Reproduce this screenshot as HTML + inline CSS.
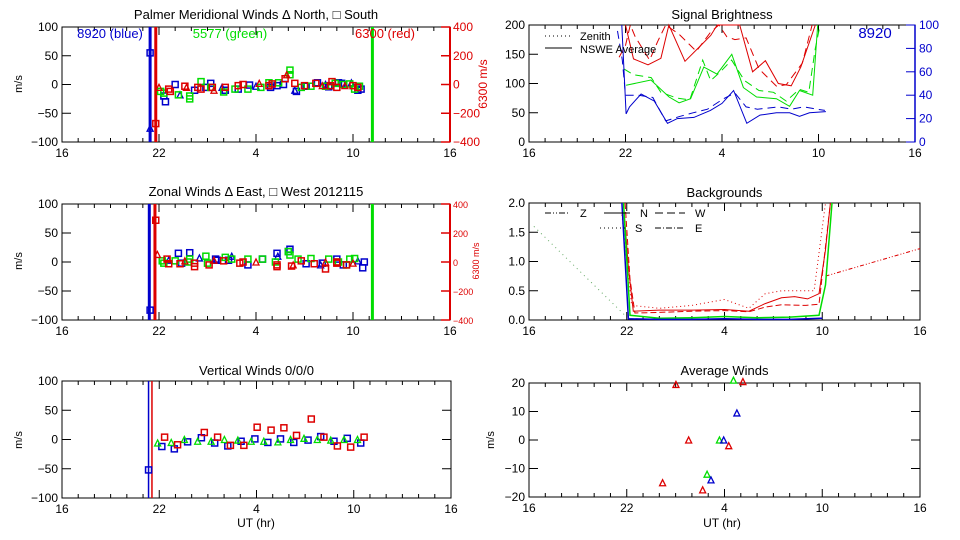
<!DOCTYPE html>
<html><head><meta charset="utf-8"><style>
html,body{margin:0;padding:0;background:#fff;}
svg{display:block;font-family:"Liberation Sans",sans-serif;}
</style></head><body>
<svg id="c" width="960" height="540" viewBox="0 0 960 540"></svg>
<script>
// ---------- data ----------
const xTickLabels = ["16","22","4","10","16"];
// Panel 1 meridional
const merBlueH = [21.45,21.45,22.3,22.4,23,23.3,24.2,24.9,25.2,25.9,26.1,26.9,27.6,28,28.9,29.3,29.7,30.4,30.5,31.1,31.8,32.3,32.5,33.1,33.3,33.9,34.3,34.5];
const merBlueV = [55,-76,-20,-30,0,-18,-10,-5,2,-5,-10,-8,-1,-3,-5,-2,0,-10,-12,-3,3,0,-4,3,2,3,-10,-8];
const merGreenH = [22.1,22.3,23.2,23.9,23.9,24.6,25.2,26.0,26.7,27.5,28.3,28.8,29.4,30.1,30.1,30.8,31.4,32.3,32.9,33.4,33.8,34.1,34.4];
const merGreenV = [-12,-15,-18,-20,-25,5,-5,-13,-8,-8,-5,3,3,25,17,-5,-3,-3,2,0,1,-8,-3];
const merRedH = [21.8,22.0,22.6,22.7,23.6,23.7,24.4,24.6,25.3,25.4,26.1,26.9,27.2,28.2,28.8,29.0,29.8,29.9,30.4,31.0,31.7,32.1,32.6,32.7,33.0,33.5,34.0,34.3];
const merRedV = [-68,-5,-8,-12,-3,-5,-5,-8,-5,-10,-5,-2,0,2,-2,1,10,17,2,-2,2,-2,-2,5,-5,-2,-2,-5];
// Panel 2 zonal
const zonBlueH = [21.45,22.6,23.2,23.4,23.9,24.5,25.5,25.6,26.3,26.5,27.5,28.4,29.3,29.35,30.1,30.0,31.1,32.0,32.1,33.0,33.4,34.3,34.6,34.7];
const zonBlueV = [-83,3,15,-2,16,7,5,3,3,10,-5,5,15,10,22,18,-3,-5,-2,5,-5,2,-10,0];
const zonGreenH = [22.2,22.3,23.0,23.9,23.8,24.9,25.0,26.1,26.5,27.5,28.4,29.2,30.0,30.1,30.6,31.4,32.5,33.1,33.6,33.8,34.1];
const zonGreenV = [2,-2,2,5,0,10,-2,8,5,5,5,0,18,12,5,6,5,0,-5,5,6];
const zonRedH = [21.8,21.9,22.5,22.6,23.3,23.6,24.2,24.2,25.1,25.4,26.0,27.0,27.2,28.0,29.3,29.3,30.2,30.3,30.8,31.6,32.3,32.3,33.0,33.0,33.6,34.0];
const zonRedV = [72,13,5,-3,-3,2,-8,-2,-5,3,2,-2,0,0,-5,-8,-7,-5,2,-3,-12,0,0,-2,-5,-2];
// Panel 3 vertical
const verBlueH = [21.34,22.16,22.93,23.75,24.6,25.42,26.23,27.05,27.9,28.7,29.48,30.3,31.18,31.96,32.78,33.6,34.43];
const verBlueV = [-52,-12,-16,-4,3,-6,-11,-3,1,-5,1,-5,-1,5,-3,2,-6];
const verGreenH = [21.9,22.74,23.55,24.37,25.2,26.02,26.85,27.67,28.45,29.32,30.1,30.93,31.75,32.58,33.4,34.23];
const verGreenV = [-6,-5,0,-3,-3,0,-1,-3,-3,-4,0,2,0,-1,0,0];
const verRedH = [22.33,23.13,24.78,25.6,26.39,27.22,28.04,28.9,29.69,30.47,31.38,32.16,32.99,33.81,34.64];
const verRedV = [4,-9,12,4,-10,-10,21,16,20,7,35,4,-11,-13,4];
// Signal brightness (red/green left axis 0-200, blue right axis 0-100)
const brRedSolidH = [22.0,22.5,23.4,24.2,24.7,25.7,26.5,27.3,27.7,29.1,29.9,30.7,31.5,32.3,32.9,33.8];
const brRedSolidV = [200,142,132,143,200,138,160,182,200,200,120,139,100,96,128,200];
const brRedDashH = [21.6,22.0,22.3,22.6,23.5,24.0,24.5,25.3,26.4,27.3,27.8,28.3,28.8,29.5,30.3,31.4,32.0,33.0,33.6];
const brRedDashV = [145,165,200,180,140,172,200,185,155,188,200,180,175,178,125,95,98,135,200];
const brGreenSolidH = [22.04,23.58,24.71,25.33,26.05,26.87,27.69,28.61,29.33,30.15,31.38,32.2,32.82,33.64,33.95];
const brGreenSolidV = [97,106,77,67,74,128,116,150,93,77,74,61,88,80,200];
const brGreenDashH = [21.9,22.5,23.6,24.2,25.2,26.0,26.8,27.3,27.9,28.6,29.4,30.3,31.2,32.0,32.8,33.4,33.8,34.1];
const brGreenDashV = [125,115,110,85,75,72,140,105,120,140,105,88,85,70,90,85,160,200];
const brBlueSolidH = [21.77,22.04,22.25,22.97,23.79,24.61,25.22,26.25,27.28,28.0,28.72,29.54,30.36,31.38,32.2,32.82,33.44,34.46];
const brBlueSolidV = [100,24,30,41,35,16,20,21,27,33,44,16,23,25,25,22,25,26];
const brBlueDashH = [21.5,21.8,22.0,22.8,23.7,24.5,25.4,26.2,27.1,28.1,28.8,29.5,30.2,31.5,32.3,33.1,33.9,34.4];
const brBlueDashV = [95,70,40,40,38,18,22,25,28,37,42,30,28,30,28,30,28,27];
// Backgrounds
const bgRedSolidH = [21.8,22.1,22.4,24,26,28,29.5,30.5,31.5,32.3,33.1,33.8,34.2,34.5];
const bgRedSolidV = [2.0,0.9,0.15,0.17,0.17,0.18,0.15,0.28,0.38,0.4,0.36,0.45,1.2,2.0];
const bgRedDashH = [21.9,22.2,22.5,24,26,28,29.5,30.5,31.5,33,33.8,34.5];
const bgRedDashV = [2.0,0.7,0.12,0.13,0.15,0.16,0.14,0.22,0.26,0.25,0.27,2.0];
const bgRedDotH = [21.7,22.3,24,26,28,29.5,30.5,31.5,32.3,33.5,34.2];
const bgRedDotV = [1.8,0.25,0.2,0.25,0.35,0.2,0.45,0.5,0.5,0.5,2.0];
const bgRedExtH = [34.2,40];
const bgRedExtV = [0.75,1.22];
const bgGreenDotH = [16.3,22.0];
const bgGreenDotV = [1.6,0.05];
const bgGreenSolidH = [21.8,22.2,24,26,28,30,32,33.8,34.2,34.6];
const bgGreenSolidV = [2.0,0.08,0.03,0.04,0.06,0.04,0.05,0.08,0.6,2.0];
const bgBlueSolidH = [21.7,22.1,24,26,28,30,32,33.9,34.0];
const bgBlueSolidV = [2.0,0.02,0.01,0.01,0.02,0.01,0.01,0.03,0.03];
// Average winds
const avgRedH = [25.02,25.8,24.2,26.66,28.26,29.13];
const avgRedV = [19.5,0,-15,-17.5,-2,20.5];
const avgGreenH = [27.69,26.93,28.55];
const avgGreenV = [0,-12,21];
const avgBlueH = [27.95,27.17,28.76];
const avgBlueV = [0,-14,9.5];

// ---------- drawing ----------
const NS="http://www.w3.org/2000/svg";
const svg=document.getElementById('c');
function el(tag,attrs,parent){const e=document.createElementNS(NS,tag);for(const k in attrs)e.setAttribute(k,attrs[k]);(parent||svg).appendChild(e);return e;}
function txt(x,y,s,size,anchor,fill,parent){const t=el('text',{x:x,y:y,'font-size':size,'text-anchor':anchor||'middle',fill:fill||'#000'},parent);t.textContent=s;return t;}
const BLUE="#0000cc",RED="#dd0000",GREEN="#00dd00";
const P={
 L1:{x0:62,x1:450,y0:27,y1:142,min:-100,max:100},
 L2:{x0:62,x1:450,y0:204,y1:320,min:-100,max:100},
 L3:{x0:62,x1:451,y0:381,y1:498,min:-100,max:100},
 R1:{x0:529,x1:915,y0:25,y1:142,min:0,max:200},
 R2:{x0:529,x1:920,y0:203,y1:320,min:0,max:2},
 R3:{x0:529,x1:920,y0:383,y1:497,min:-20,max:20}
};
function X(p,h){return p.x0+(h-16)/24*(p.x1-p.x0);}
function Y(p,v,mn,mx){mn=mn===undefined?p.min:mn;mx=mx===undefined?p.max:mx;return p.y1-(v-mn)/(mx-mn)*(p.y1-p.y0);}
function frame(p,name,yt,ytl,rightTicks){
 const g=el('g',{});
 
 
 el('rect',{x:p.x0,y:p.y0,width:p.x1-p.x0,height:p.y1-p.y0,fill:'none',stroke:'#000','stroke-width':1},g);
 for(let h=16;h<=40;h++){
  const x=X(p,h),len=(h-16)%6===0?8:4;
  el('line',{x1:x,y1:p.y1,x2:x,y2:p.y1-len,stroke:'#000'},g);
  el('line',{x1:x,y1:p.y0,x2:x,y2:p.y0+len,stroke:'#000'},g);
 }
 xTickLabels.forEach((s,i)=>{const t=txt(X(p,16+6*i),p.y1+15,s,12,'middle','#000',g);
  
  });
 yt.forEach((v,i)=>{const y=Y(p,v);
  el('line',{x1:p.x0,y1:y,x2:p.x0+9,y2:y,stroke:'#000'},g);
  if(rightTicks)el('line',{x1:p.x1,y1:y,x2:p.x1-9,y2:y,stroke:'#000'},g);
  const t=txt(p.x0-4,y+4,ytl[i],12,'end','#000',g);
  
  });
 return g;
}
function ylabel(x,y,s,size,fill,name){const t=txt(x,y,s,size,'middle',fill);t.setAttribute('transform','rotate(-90 '+x+' '+y+')');
 
 }
function title(p,s,y){const t=txt((p.x0+p.x1)/2,y,s,13);
 
 }
function marker(p,h,v,col,shape,g,mn,mx){
 const x=X(p,h),y=Y(p,v,mn,mx);let m;
 if(shape==='t') m=el('polygon',{points:(x-3)+','+(y+3)+' '+(x+3)+','+(y+3)+' '+x+','+(y-3),fill:'none',stroke:col,'stroke-width':1.3},g);
 else m=el('rect',{x:x-3,y:y-3,width:6,height:6,fill:'none',stroke:col,'stroke-width':1.5},g);
 
 
}
function series(p,H,V,col,name,shapeFn,mn,mx){
 const g=el('g',{});
 
 
 H.forEach((h,i)=>marker(p,h,V[i],col,shapeFn(i),g,mn,mx));
}
function line(p,H,V,col,dash,name,w,mn,mx){
 const pts=H.map((h,i)=>X(p,h).toFixed(1)+','+Math.max(p.y0,Math.min(p.y1,Y(p,V[i],mn,mx))).toFixed(1)).join(' ');
 const l=el('polyline',{points:pts,fill:'none',stroke:col,'stroke-width':w||1,'stroke-dasharray':dash||'none'});
 
 
}
function vline(p,h,col,w,name){const x=X(p,h);const l=el('line',{x1:x,y1:p.y0,x2:x,y2:p.y1,stroke:col,'stroke-width':w});
 
 }
function redAxis(p,labSize){
 const g=el('g',{});
 
 
 el('line',{x1:p.x1,y1:p.y0,x2:p.x1,y2:p.y1,stroke:RED,'stroke-width':2},g);
 [400,200,0,-200,-400].forEach(v=>{const y=Y(p,v,-400,400);
  el('line',{x1:p.x1,y1:y,x2:p.x1-9,y2:y,stroke:RED,'stroke-width':1.5},g);
  const t=txt(p.x1+3,y+4,v===0?'0':(v<0?'\u2212'+(-v):String(v)),labSize,'start',RED,g);
  
  });
}
const sq=()=> 's', tr=()=> 't', mix=i=> i%4===1?'t':'s';
const yt100=[100,50,0,-50,-100], yl100=['100','50','0','\u221250','\u2212100'];

// Panel L1
let p=P.L1;
frame(p,'meridional-panel',yt100,yl100,false);
title(p,'Palmer Meridional Winds \u0394 North, \u25A1 South',19);
ylabel(22,84,'m/s',11,'#000','y-axis-title');
redAxis(p,12);
ylabel(487,84,'6300 m/s',12,RED,'red-y-axis-title');
vline(p,21.45,BLUE,3,'blue-marker-line');vline(p,21.8,RED,3,'red-marker-line');vline(p,35.2,GREEN,3,'green-marker-line');
series(p,merBlueH,merBlueV,BLUE,'meridional-blue',mix);
series(p,merGreenH,merGreenV,GREEN,'meridional-green',sq);
series(p,merRedH,merRedV,RED,'meridional-red',mix);
[['8920 (blue)',110,BLUE],['5577 (green)',230,GREEN],['6300 (red)',385,RED]].forEach(a=>{const t=txt(a[1],38,a[0],13,'middle',a[2]);
 
 });

// Panel L2
p=P.L2;
frame(p,'zonal-panel',yt100,yl100,false);
title(p,'Zonal Winds \u0394 East, \u25A1 West 2012115',196);
ylabel(22,261,'m/s',11,'#000','y-axis-title');
redAxis(p,9);
ylabel(479,261,'6300 m/s',9,RED,'red-y-axis-title');
vline(p,21.4,BLUE,3,'blue-marker-line');vline(p,21.75,RED,3,'red-marker-line');vline(p,35.2,GREEN,3,'green-marker-line');
series(p,zonBlueH,zonBlueV,BLUE,'zonal-blue',mix);
series(p,zonGreenH,zonGreenV,GREEN,'zonal-green',sq);
series(p,zonRedH,zonRedV,RED,'zonal-red',mix);

// Panel L3
p=P.L3;
frame(p,'vertical-panel',yt100,yl100,true);
title(p,'Vertical Winds 0/0/0',375);
ylabel(22,440,'m/s',11,'#000','y-axis-title');
txt(256,527,'UT (hr)',12);
vline(p,21.34,BLUE,1.5,'blue-marker-line');vline(p,21.55,RED,1.5,'red-marker-line');
series(p,verBlueH,verBlueV,BLUE,'vertical-blue',sq);
series(p,verGreenH,verGreenV,GREEN,'vertical-green',tr);
series(p,verRedH,verRedV,RED,'vertical-red',sq);

// Panel R1
p=P.R1;
frame(p,'brightness-panel',[200,150,100,50,0],['200','150','100','50','0'],false);
title(p,'Signal Brightness',19);
line(p,brRedSolidH,brRedSolidV,RED,null,'red-nswe-line');
line(p,brRedDashH,brRedDashV,RED,'8,5','red-zenith-line');
line(p,brGreenSolidH,brGreenSolidV,GREEN,null,'green-nswe-line');
line(p,brGreenDashH,brGreenDashV,GREEN,'8,5','green-zenith-line');
line(p,brBlueSolidH,brBlueSolidV,BLUE,null,'blue-nswe-line',1,0,100);
line(p,brBlueDashH,brBlueDashV,BLUE,'8,5','blue-zenith-line',1,0,100);
(function(){const g=el('g',{});
 
 
 el('line',{x1:p.x1,y1:p.y0,x2:p.x1,y2:p.y1,stroke:BLUE,'stroke-width':1.5},g);
 [0,20,40,60,80,100].forEach(v=>{const y=Y(p,v,0,100);
  el('line',{x1:p.x1,y1:y,x2:p.x1-9,y2:y,stroke:BLUE},g);
  const t=txt(p.x1+4,y+4,String(v),12,'start',BLUE,g);
  
  });})();
txt(875,38,'8920',15,'middle',BLUE);
el('line',{x1:545,y1:36,x2:572,y2:36,stroke:'#000','stroke-dasharray':'1,3'});
txt(580,40,'Zenith',11,'start');
el('line',{x1:545,y1:48,x2:572,y2:48,stroke:'#000'});
txt(580,53,'NSWE Average',11,'start');

// Panel R2
p=P.R2;
frame(p,'backgrounds-panel',[2,1.5,1,0.5,0],['2.0','1.5','1.0','0.5','0.0'],true);
title(p,'Backgrounds',197);
line(p,bgGreenDotH,bgGreenDotV,'#66aa66','1,4','green-zenith-background');
line(p,bgRedExtH,bgRedExtV,RED,'4,2,1,2,1,2','red-extension-background');
line(p,bgRedDotH,bgRedDotV,RED,'1,3','red-s-background');
line(p,bgRedDashH,bgRedDashV,RED,'6,3','red-w-background');
line(p,bgRedSolidH,bgRedSolidV,RED,null,'red-n-background');
line(p,bgGreenSolidH,bgGreenSolidV,GREEN,null,'green-background',1.5);
line(p,bgBlueSolidH,bgBlueSolidV,BLUE,null,'blue-background',1.5);
[[545,570,213,'Z','6,2,1,2,1,2'],[604,630,213,'N',null],[655,685,213,'W','8,4'],[600,625,228,'S','1,3'],[655,685,228,'E','6,2,1,2']].forEach(a=>{
 const l=el('line',{x1:a[0],y1:a[2],x2:a[1],y2:a[2],stroke:'#000','stroke-dasharray':a[4]||'none'});
 
 
 const t=txt(a[1]+10,a[2]+4,a[3],11,'start');
 
 });

// Panel R3
p=P.R3;
frame(p,'average-winds-panel',[20,10,0,-10,-20],['20','10','0','\u221210','\u221220'],true);
title(p,'Average Winds',375);
ylabel(494,440,'m/s',11,'#000','y-axis-title');
txt(722,527,'UT (hr)',12);
series(p,avgRedH,avgRedV,RED,'average-red',tr);
series(p,avgGreenH,avgGreenV,GREEN,'average-green',tr);
series(p,avgBlueH,avgBlueV,BLUE,'average-blue',tr);
</script>
</body></html>
